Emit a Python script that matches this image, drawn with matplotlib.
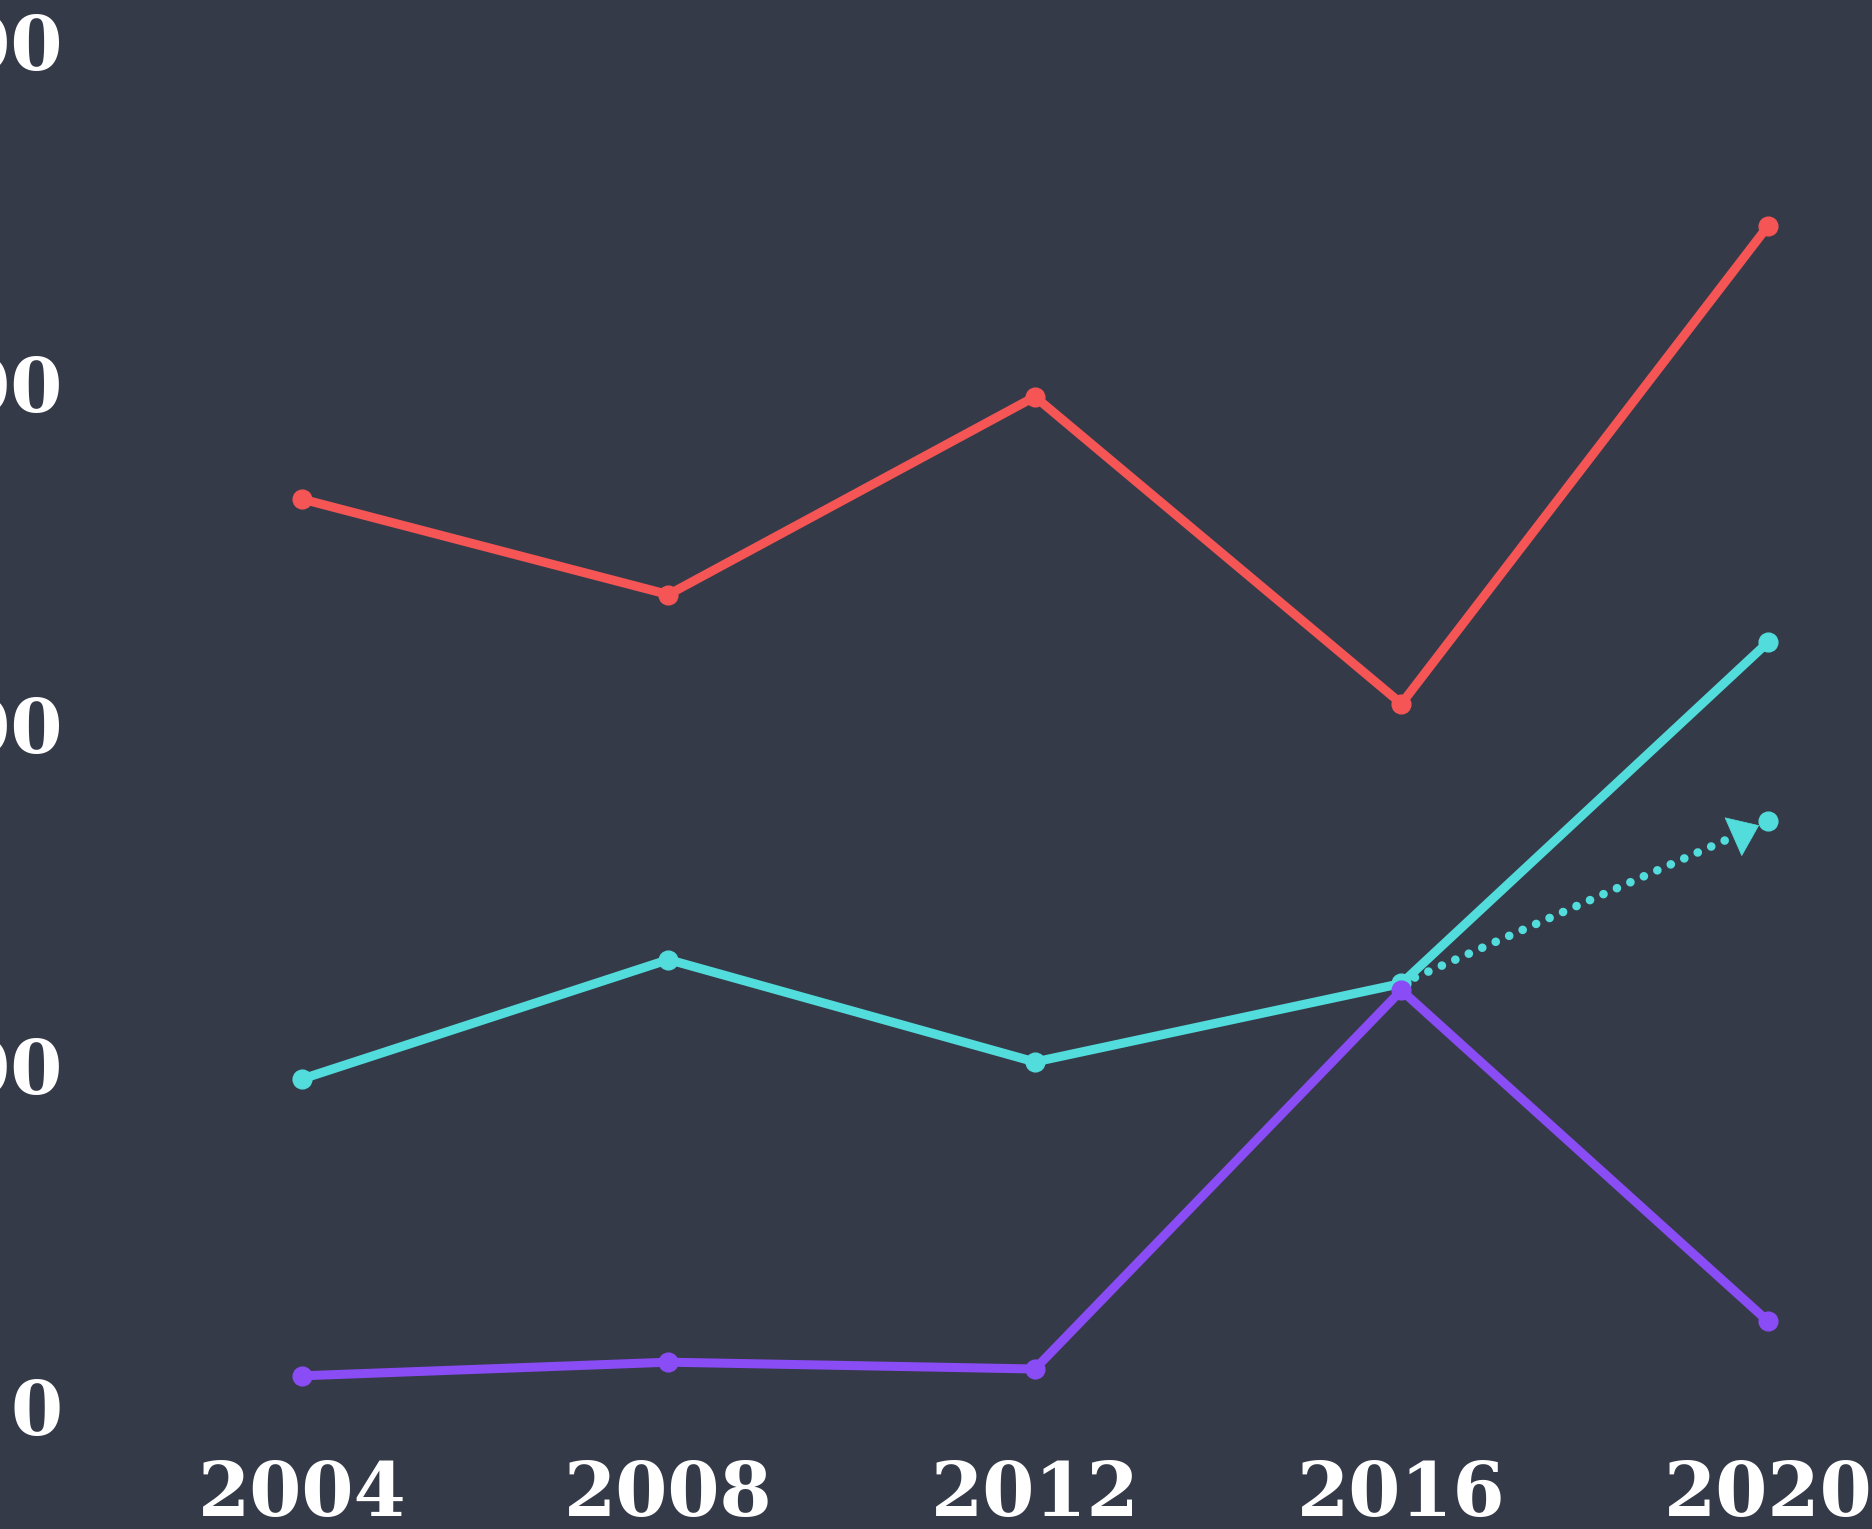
import matplotlib
matplotlib.use("Agg")
from matplotlib import pyplot as plt

# data
years = [2004, 2008, 2012, 2016, 2020]
red = [266, 238, 296, 206, 346]
cyan = [96, 131, 101, 124, 224]
purple = [9, 13, 11, 122, 25]
proj_years = [2016, 2020]
proj_vals = [124, 171.5]
yticks = [0, 100, 200, 300, 400]

bg = "#353a48"
c_red = "#f55555"
c_cyan = "#52dcdc"
c_purple = "#8a4cf5"

fig = plt.figure(figsize=(18.72, 15.29), dpi=100, facecolor=bg)
ax = fig.add_axes([0.1613, 0.0801, 0.7831, 0.8925], facecolor=bg)

lw = 6.5
for vals, col in [(red, c_red), (cyan, c_cyan), (purple, c_purple)]:
    ax.plot(years, vals, color=col, lw=lw, marker="o", ms=13.5,
            solid_joinstyle="round", clip_on=False, zorder=3)

# projected dotted line with arrow head
x0, y0 = proj_years[0], proj_vals[0]
x1, y1 = proj_years[1], proj_vals[1]
tip = 0.976
cut = 0.945
xt = x0 + (x1 - x0) * tip
yt = y0 + (y1 - y0) * tip
xc = x0 + (x1 - x0) * cut
yc = y0 + (y1 - y0) * cut
ax.plot([x0, xc], [y0, yc], color=c_cyan, lw=6.2, ls=(0, (0.01, 1.7)),
        dash_capstyle="round", clip_on=False, zorder=2)
ax.annotate("", xy=(xt, yt), xytext=(xc, yc),
            arrowprops=dict(arrowstyle="-|>,head_length=0.36,head_width=0.27",
                            color=c_cyan, lw=0.5,
                            mutation_scale=55, shrinkA=0, shrinkB=0), zorder=2)
ax.plot([x1], [y1], "o", color=c_cyan, ms=13.5, clip_on=False, zorder=3)

ax.set_xlim(2004, 2020)
ax.set_ylim(0, 400)
ax.set_xticks(years)
ax.set_yticks(yticks)
for s in ax.spines.values():
    s.set_visible(False)
ax.tick_params(length=0, colors="white")
ax.tick_params(axis="y", pad=172)
ax.tick_params(axis="x", pad=38)
for lab in ax.get_xticklabels() + ax.get_yticklabels():
    lab.set_fontfamily("DejaVu Serif")
    lab.set_fontweight("bold")
    lab.set_fontsize(54)

fig.savefig("out.png", dpi=100, facecolor=bg)
